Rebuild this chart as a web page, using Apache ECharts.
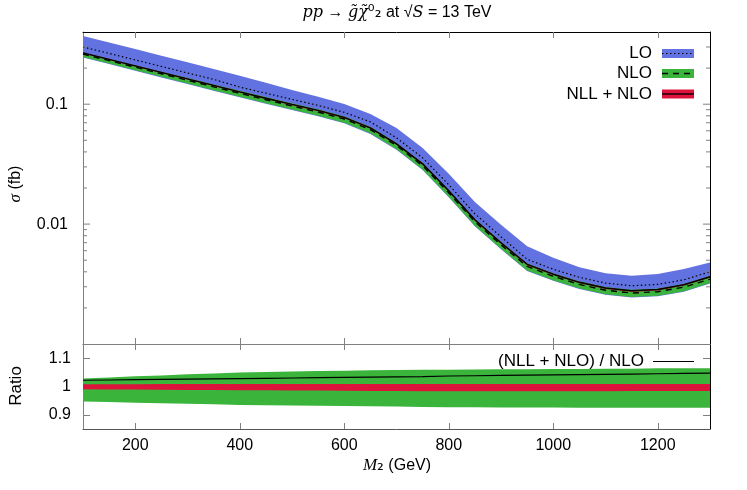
<!DOCTYPE html>
<html>
<head>
<meta charset="utf-8">
<title>pp -> gluino neutralino cross section</title>
<script src="https://cdn.jsdelivr.net/npm/echarts@6/dist/echarts.min.js"></script>
<style>
html, body { margin: 0; padding: 0; background: #fff; }
#chart { width: 747px; height: 490px; }
</style>
</head>
<body>
<div id="chart"></div>
<script>
// M2 (GeV)
const mass = [100, 150, 200, 250, 300, 350, 400, 450, 500, 550, 600, 650, 700,
  750, 800, 850, 900, 950, 1000, 1050, 1100, 1150, 1200, 1250, 1300];

// sigma (fb), LO
const loCentral = [0.300, 0.265, 0.234, 0.2065, 0.182, 0.161, 0.139, 0.1235, 0.1096, 0.0977, 0.0855, 0.0712, 0.0524,
  0.0357, 0.0213, 0.01218, 0.00784, 0.00509, 0.00420, 0.00360, 0.00322, 0.00306, 0.00314, 0.00343, 0.00400];
const loUpper = [0.371, 0.327, 0.289, 0.254, 0.224, 0.197, 0.173, 0.151, 0.1316, 0.1151, 0.1006, 0.0830, 0.0634,
  0.0432, 0.0263, 0.0153, 0.00987, 0.00653, 0.00524, 0.00437, 0.00389, 0.00371, 0.00383, 0.00422, 0.00479];
const loLower = [0.2454, 0.2160, 0.1901, 0.1673, 0.1472, 0.1295, 0.1140, 0.1008, 0.0893, 0.0794, 0.0693, 0.0565, 0.0416,
  0.0282, 0.01676, 0.00960, 0.00616, 0.00407, 0.00337, 0.00287, 0.00257, 0.00244, 0.00250, 0.00273, 0.00319];

// sigma (fb), NLO
const nloCentral = [0.2618, 0.2309, 0.2036, 0.1796, 0.1584, 0.1396, 0.1232, 0.1090, 0.0967, 0.0861, 0.0752, 0.0614, 0.0452,
  0.0307, 0.01826, 0.01046, 0.00672, 0.00444, 0.00367, 0.00314, 0.00281, 0.00266, 0.00273, 0.00298, 0.00348];
const nloUpper = [0.2691, 0.2383, 0.2109, 0.1866, 0.1652, 0.1460, 0.1292, 0.1146, 0.1018, 0.0908, 0.0794, 0.0649, 0.0478,
  0.0325, 0.01934, 0.01109, 0.00713, 0.00471, 0.00390, 0.00333, 0.00299, 0.00283, 0.00290, 0.00317, 0.00370];
const nloLower = [0.2479, 0.2182, 0.1920, 0.1690, 0.1487, 0.1308, 0.1152, 0.1018, 0.0902, 0.0802, 0.0700, 0.0571, 0.0420,
  0.0285, 0.01693, 0.00970, 0.00622, 0.00411, 0.00340, 0.00290, 0.00260, 0.00246, 0.00253, 0.00276, 0.00322];

// sigma (fb), NLL + NLO
const nllCentral = [0.2676, 0.2362, 0.2085, 0.1841, 0.1625, 0.1434, 0.1266, 0.1122, 0.0996, 0.0888, 0.0776, 0.0634, 0.0467,
  0.0318, 0.01894, 0.01086, 0.00698, 0.00462, 0.00382, 0.00327, 0.00293, 0.00278, 0.00285, 0.00312, 0.00364];
const nllUpper = [0.2699, 0.2382, 0.2103, 0.1857, 0.1639, 0.1446, 0.1277, 0.1132, 0.1004, 0.0896, 0.0783, 0.0639, 0.0471,
  0.0321, 0.01910, 0.01095, 0.00704, 0.00466, 0.00385, 0.00330, 0.00295, 0.00280, 0.00287, 0.00315, 0.00367];
const nllLower = [0.2649, 0.2337, 0.2062, 0.1820, 0.1606, 0.1416, 0.1250, 0.1107, 0.0982, 0.0875, 0.0764, 0.0624, 0.0460,
  0.0313, 0.01862, 0.01068, 0.00686, 0.00454, 0.00376, 0.00322, 0.00288, 0.00273, 0.00280, 0.00307, 0.00358];

// ratio panel
const ratioNllOverNlo = [1.022, 1.023, 1.024, 1.025, 1.026, 1.027, 1.028, 1.029, 1.030, 1.031, 1.032, 1.033, 1.034,
  1.035, 1.037, 1.038, 1.039, 1.040, 1.041, 1.042, 1.043, 1.044, 1.045, 1.046, 1.047];
const ratioNloUpper = [1.028, 1.032, 1.036, 1.039, 1.043, 1.046, 1.049, 1.051, 1.053, 1.055, 1.056, 1.057, 1.058,
  1.059, 1.059, 1.060, 1.061, 1.061, 1.062, 1.062, 1.063, 1.063, 1.064, 1.064, 1.064];
const ratioNloLower = [0.947, 0.945, 0.943, 0.941, 0.939, 0.937, 0.935, 0.934, 0.933, 0.932, 0.931, 0.930, 0.929,
  0.928, 0.927, 0.927, 0.926, 0.926, 0.926, 0.925, 0.925, 0.925, 0.925, 0.925, 0.925];
const ratioNllUpper = [1.008, 1.008, 1.008, 1.0085, 1.0085, 1.0085, 1.0085, 1.0085, 1.0085, 1.0085, 1.0085, 1.0085, 1.0085,
  1.009, 1.009, 1.009, 1.009, 1.009, 1.009, 1.009, 1.009, 1.009, 1.009, 1.009, 1.009];
const ratioNllLower = [0.990, 0.9895, 0.989, 0.9885, 0.988, 0.9875, 0.987, 0.9865, 0.986, 0.9855, 0.985, 0.9845, 0.984,
  0.9835, 0.983, 0.983, 0.983, 0.983, 0.983, 0.9833, 0.9835, 0.9838, 0.984, 0.984, 0.984];

// ticks
const xTicks = [200, 400, 600, 800, 1000, 1200];
const logMajorTicks = [0.01, 0.1];
const logMinorTicks = [0.002, 0.003, 0.004, 0.005, 0.006, 0.007, 0.008, 0.009,
  0.02, 0.03, 0.04, 0.05, 0.06, 0.07, 0.08, 0.09, 0.2, 0.3];
const ratioTicks = [0.9, 1, 1.1];

const BLUE = '#6272e0';
const GREEN = '#3bb43b';
const RED = '#dc143c';
const GRAY = '#808080';
const FONT = 'Liberation Sans';

const myChart = echarts.init(document.getElementById('chart'), null, { renderer: 'canvas' });

function band(lower, upper, color, gi, z) {
  return {
    type: 'custom',
    xAxisIndex: gi === 0 ? 0 : 2,
    yAxisIndex: gi === 0 ? 0 : 2,
    z: z,
    silent: true,
    data: [[mass[0], upper[0]]],
    renderItem: function (params, api) {
      const pts = [];
      for (let i = 0; i < mass.length; i++) pts.push(api.coord([mass[i], upper[i]]));
      for (let i = mass.length - 1; i >= 0; i--) pts.push(api.coord([mass[i], lower[i]]));
      return { type: 'polygon', shape: { points: pts }, style: { fill: color } };
    }
  };
}

function curve(values, gi, dash, width, z) {
  return {
    type: 'line',
    xAxisIndex: gi === 0 ? 0 : 2,
    yAxisIndex: gi === 0 ? 0 : 2,
    z: z,
    silent: true,
    showSymbol: false,
    data: mass.map((m, i) => [m, values[i]]),
    lineStyle: { color: '#000', width: width, type: dash }
  };
}

// short tick marks on both sides of the log panel
function logTicks(values, len) {
  return {
    type: 'custom',
    xAxisIndex: 0,
    yAxisIndex: 0,
    z: 20,
    silent: true,
    data: values.map(v => [mass[0], v]),
    renderItem: function (params, api) {
      const v = api.value(1);
      const l = api.coord([mass[0], v]);
      const r = api.coord([mass[mass.length - 1], v]);
      const st = { stroke: GRAY, lineWidth: 1 };
      return {
        type: 'group',
        children: [
          { type: 'line', shape: { x1: l[0], y1: l[1], x2: l[0] + len, y2: l[1] }, style: st },
          { type: 'line', shape: { x1: r[0], y1: r[1], x2: r[0] - len, y2: r[1] }, style: st }
        ]
      };
    }
  };
}

const xBase = {
  type: 'value', min: 100, max: 1300,
  splitLine: { show: false },
  axisLabel: { show: false },
  axisTick: { show: true, inside: true, length: 6, customValues: xTicks, lineStyle: { color: GRAY } }
};

myChart.setOption({
  animation: false,
  backgroundColor: '#fff',
  grid: [
    { left: 83, top: 32, width: 627, height: 312 },
    { left: 83, top: 344, width: 627, height: 85 }
  ],
  xAxis: [
    Object.assign({}, xBase, { gridIndex: 0, position: 'bottom', axisLine: { lineStyle: { color: GRAY } } }),
    Object.assign({}, xBase, { gridIndex: 0, position: 'top', axisLine: { lineStyle: { color: '#000' } } }),
    Object.assign({}, xBase, {
      gridIndex: 1, position: 'bottom',
      axisLine: { lineStyle: { color: '#555' } },
      axisLabel: {
        show: true, customValues: xTicks, margin: 9, fontSize: 16, fontFamily: FONT, color: '#000',
        formatter: function (v) { return String(v); }
      }
    }),
    Object.assign({}, xBase, { gridIndex: 1, position: 'top', axisLine: { lineStyle: { color: GRAY } } })
  ],
  yAxis: [
    {
      gridIndex: 0, type: 'log', min: 0.001, max: 0.4, position: 'left',
      splitLine: { show: false },
      axisLine: { lineStyle: { color: GRAY } },
      axisTick: { show: false },
      axisLabel: {
        margin: 15, fontSize: 16, fontFamily: FONT, color: '#000',
        formatter: function (v) { return logMajorTicks.some(t => Math.abs(t - v) < 1e-9) ? String(v) : ''; }
      }
    },
    {
      gridIndex: 0, type: 'log', min: 0.001, max: 0.4, position: 'right',
      splitLine: { show: false },
      axisLine: { lineStyle: { color: '#000' } },
      axisTick: { show: false },
      axisLabel: { show: false }
    },
    {
      gridIndex: 1, type: 'value', min: 0.85, max: 1.15, position: 'left',
      splitLine: { show: false },
      axisLine: { lineStyle: { color: GRAY } },
      axisTick: { inside: true, length: 7, customValues: ratioTicks, lineStyle: { color: GRAY } },
      axisLabel: { customValues: ratioTicks, margin: 12, fontSize: 16, fontFamily: FONT, color: '#000' }
    },
    {
      gridIndex: 1, type: 'value', min: 0.85, max: 1.15, position: 'right',
      splitLine: { show: false },
      axisLine: { lineStyle: { color: '#000' } },
      axisTick: { inside: true, length: 7, customValues: ratioTicks, lineStyle: { color: GRAY } },
      axisLabel: { show: false }
    }
  ],
  series: [
    band(loLower, loUpper, BLUE, 0, 1),
    band(nloLower, nloUpper, GREEN, 0, 2),
    band(nllLower, nllUpper, RED, 0, 3),
    curve(loCentral, 0, [1.5, 2.5], 1.2, 5),
    curve(nloCentral, 0, [6, 5], 1.4, 5),
    curve(nllCentral, 0, 'solid', 1.4, 6),
    logTicks(logMajorTicks, 7),
    logTicks(logMinorTicks, 4),
    band(ratioNloLower, ratioNloUpper, GREEN, 1, 2),
    band(ratioNllLower, ratioNllUpper, RED, 1, 3),
    curve(ratioNllOverNlo, 1, 'solid', 1.2, 6)
  ],
  graphic: [
    {
      type: 'text', x: 397, y: 13, z: 50,
      style: {
        text: '{i|pp} \u2192 {i|g\u0303\u03c7\u0303}{s|\u2070}{b|\u2082} at \u221a{i|S} = 13 TeV',
        font: '16px "Liberation Sans"', fill: '#000', align: 'center', verticalAlign: 'middle',
        rich: {
          i: { fontFamily: 'DejaVu Serif', fontStyle: 'italic', fontSize: 16 },
          s: { fontFamily: 'DejaVu Sans', fontSize: 17 },
          b: { fontFamily: 'DejaVu Sans', fontSize: 17 }
        }
      }
    },
    {
      type: 'text', x: 16, y: 184, rotation: Math.PI / 2, z: 50,
      style: {
        text: '{i|\u03c3} (fb)', font: '16px "Liberation Sans"', fill: '#000',
        align: 'center', verticalAlign: 'middle',
        rich: { i: { fontFamily: 'Liberation Serif', fontStyle: 'italic', fontSize: 17 } }
      }
    },
    {
      type: 'text', x: 16, y: 386, rotation: Math.PI / 2, z: 50,
      style: { text: 'Ratio', font: '17px "Liberation Sans"', fill: '#000', align: 'center', verticalAlign: 'middle' }
    },
    {
      type: 'text', x: 397, y: 466, z: 50,
      style: {
        text: '{i|M}{b|\u2082} (GeV)', font: '16px "Liberation Sans"', fill: '#000',
        align: 'center', verticalAlign: 'middle',
        rich: {
          i: { fontFamily: 'Liberation Serif', fontStyle: 'italic', fontSize: 17 },
          b: { fontFamily: 'DejaVu Sans', fontSize: 17 }
        }
      }
    },
    // legend, top panel
    { type: 'text', x: 652, y: 53.5, z: 50, style: { text: 'LO', font: '17px "Liberation Sans"', fill: '#000', align: 'right', verticalAlign: 'middle' } },
    { type: 'rect', z: 50, shape: { x: 662, y: 49, width: 32, height: 9 }, style: { fill: BLUE } },
    { type: 'line', z: 51, shape: { x1: 662, y1: 53.5, x2: 694, y2: 53.5 }, style: { stroke: '#000', lineWidth: 1.2, lineDash: [1.5, 2.5] } },
    { type: 'text', x: 652, y: 73.5, z: 50, style: { text: 'NLO', font: '17px "Liberation Sans"', fill: '#000', align: 'right', verticalAlign: 'middle' } },
    { type: 'rect', z: 50, shape: { x: 662, y: 69, width: 32, height: 9 }, style: { fill: GREEN } },
    { type: 'line', z: 51, shape: { x1: 662, y1: 73.5, x2: 694, y2: 73.5 }, style: { stroke: '#000', lineWidth: 1.4, lineDash: [6, 5] } },
    { type: 'text', x: 652, y: 94, z: 50, style: { text: 'NLL + NLO', font: '17px "Liberation Sans"', fill: '#000', align: 'right', verticalAlign: 'middle' } },
    { type: 'rect', z: 50, shape: { x: 662, y: 89.5, width: 32, height: 9 }, style: { fill: RED } },
    { type: 'line', z: 51, shape: { x1: 662, y1: 94, x2: 694, y2: 94 }, style: { stroke: '#000', lineWidth: 1.4 } },
    // legend, ratio panel
    { type: 'text', x: 644, y: 361, z: 50, style: { text: '(NLL + NLO) / NLO', font: '17px "Liberation Sans"', fill: '#000', align: 'right', verticalAlign: 'middle' } },
    { type: 'line', z: 51, shape: { x1: 653, y1: 361.5, x2: 694, y2: 361.5 }, style: { stroke: '#000', lineWidth: 1.2 } }
  ]
});
</script>
</body>
</html>
